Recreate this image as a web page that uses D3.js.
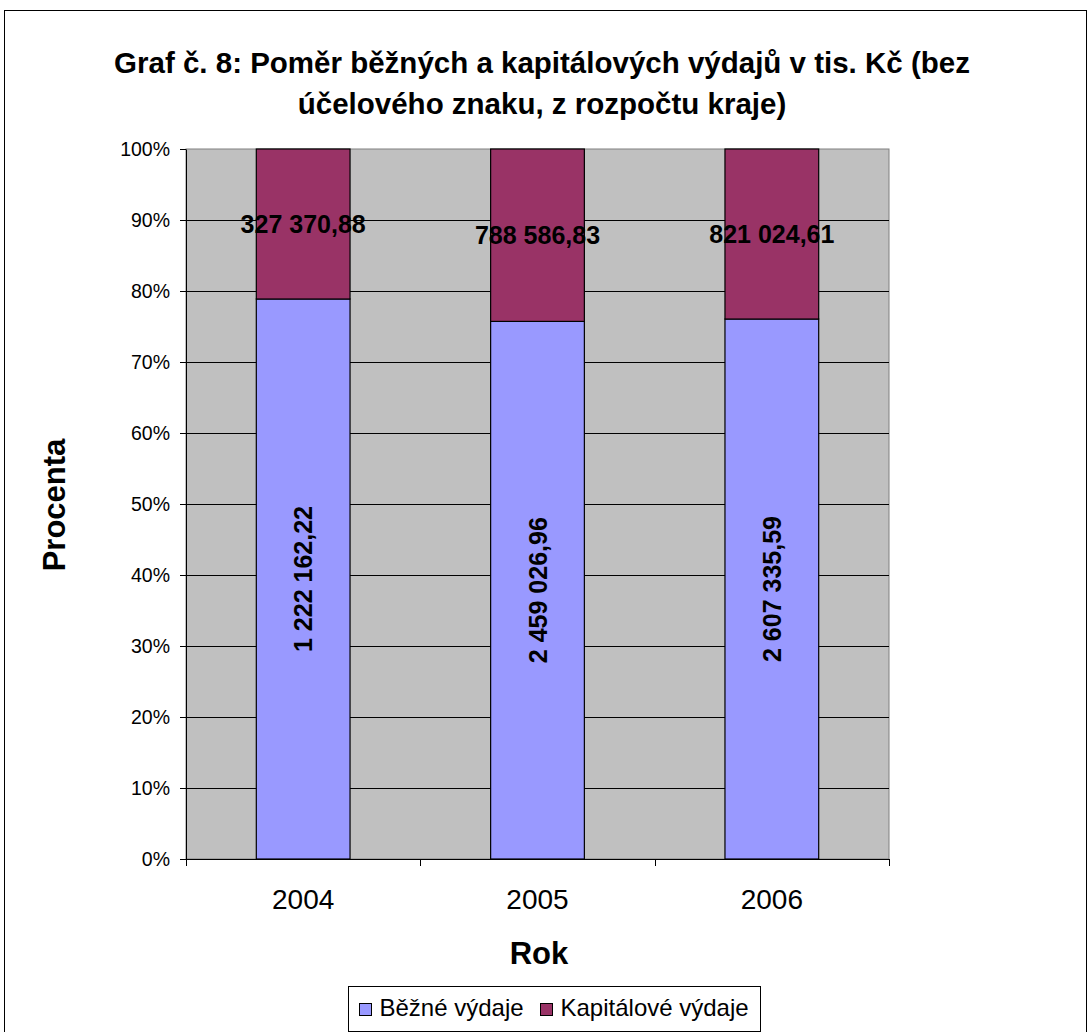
<!DOCTYPE html>
<html>
<head>
<meta charset="utf-8">
<script src="https://cdn.jsdelivr.net/npm/d3@7"></script>
<style>
  body { margin: 0; background: #fff; }
  svg { font-family: "Liberation Sans", Arial, sans-serif; }
</style>
</head>
<body>
<div id="chart"></div>
<script>
const years = ["2004", "2005", "2006"];
const bezne = [1222162.22, 2459026.96, 2607335.59];
const kapitalove = [327370.88, 788586.83, 821024.61];
const seriesNames = ["Běžné výdaje", "Kapitálové výdaje"];
const seriesColors = ["#9999ff", "#993366"];
const yTicks = [0, 0.1, 0.2, 0.3, 0.4, 0.5, 0.6, 0.7, 0.8, 0.9, 1];

const width = 1090, height = 1032;
const margin = { top: 149, right: 201, bottom: 173, left: 186 };
const chartWidth = width - margin.left - margin.right;
const chartHeight = height - margin.top - margin.bottom;

const fmt = v => {
  const [i, d] = v.toFixed(2).split(".");
  return i.replace(/\B(?=(\d{3})+(?!\d))/g, " ") + "," + d;
};

const data = years.map((y, i) => {
  const total = bezne[i] + kapitalove[i];
  return { year: y, b: bezne[i], k: kapitalove[i], pb: bezne[i] / total, pk: kapitalove[i] / total };
});

const svg = d3.select("#chart").append("svg")
  .attr("width", width)
  .attr("height", height);

svg.append("rect")
  .attr("x", 4.5).attr("y", 10.5)
  .attr("width", width - 8).attr("height", height + 20)
  .attr("fill", "#fff").attr("stroke", "#000");

const title = svg.append("text")
  .attr("text-anchor", "middle")
  .style("font-size", "29.5px").style("font-weight", "bold");
title.append("tspan").attr("x", 542).attr("y", 73).text("Graf č. 8: Poměr běžných a kapitálových výdajů v tis. Kč (bez");
title.append("tspan").attr("x", 542).attr("y", 114).text("účelového znaku, z rozpočtu kraje)");

const chart = svg.append("g")
  .attr("transform", `translate(${margin.left}, ${margin.top})`);

const x = d3.scaleBand()
  .domain(years)
  .range([0, chartWidth])
  .paddingInner(0.6)
  .paddingOuter(0.3);

const y = d3.scaleLinear()
  .domain([0, 1])
  .range([chartHeight, 0]);

chart.append("rect")
  .attr("width", chartWidth).attr("height", chartHeight)
  .attr("fill", "#c0c0c0").attr("stroke", "#808080").attr("stroke-width", 1);

chart.selectAll(".grid")
  .data(yTicks.slice(1, -1))
  .enter()
  .append("line")
  .attr("x1", 0).attr("x2", chartWidth)
  .attr("y1", d => Math.round(y(d)) + 0.5)
  .attr("y2", d => Math.round(y(d)) + 0.5)
  .attr("stroke", "#000");

// stacked bars
chart.selectAll(".bar-b")
  .data(data)
  .enter()
  .append("rect")
  .attr("x", d => x(d.year))
  .attr("y", d => y(d.pb))
  .attr("width", x.bandwidth())
  .attr("height", d => chartHeight - y(d.pb))
  .attr("fill", seriesColors[0])
  .attr("stroke", "#000").attr("stroke-width", 1.2);

chart.selectAll(".bar-k")
  .data(data)
  .enter()
  .append("rect")
  .attr("x", d => x(d.year))
  .attr("y", y(1))
  .attr("width", x.bandwidth())
  .attr("height", d => y(d.pb) - y(1))
  .attr("fill", seriesColors[1])
  .attr("stroke", "#000").attr("stroke-width", 1.2);

// axes
const yAxis = chart.append("g")
  .call(d3.axisLeft(y).tickValues(yTicks).tickFormat(d => Math.round(d * 100) + "%").tickSize(6).tickSizeOuter(0));
yAxis.select(".domain").attr("stroke", "#000");
yAxis.selectAll("text")
  .style("font-size", "19.5px")
  .style("font-family", "Liberation Sans, Arial, sans-serif")
  .attr("x", -16);

const xAxis = chart.append("g").attr("transform", `translate(0, ${chartHeight})`);
xAxis.append("line").attr("x1", 0).attr("x2", chartWidth).attr("y1", 0.5).attr("y2", 0.5).attr("stroke", "#000");
const bounds = [0, 1, 2, 3].map(i => i * chartWidth / 3);
xAxis.selectAll(".xtick")
  .data(bounds)
  .enter()
  .append("line")
  .attr("x1", d => Math.round(d) + 0.5).attr("x2", d => Math.round(d) + 0.5)
  .attr("y1", 0).attr("y2", 7)
  .attr("stroke", "#000");
xAxis.selectAll(".xlabel")
  .data(years)
  .enter()
  .append("text")
  .attr("x", d => x(d) + x.bandwidth() / 2)
  .attr("y", 50)
  .attr("text-anchor", "middle")
  .style("font-size", "28px")
  .text(d => d);

// data labels
chart.selectAll(".lab-k")
  .data(data)
  .enter()
  .append("text")
  .attr("x", d => x(d.year) + x.bandwidth() / 2)
  .attr("y", d => (y(1) + y(d.pb)) / 2 + 9)
  .attr("text-anchor", "middle")
  .style("font-size", "25px").style("font-weight", "bold")
  .text(d => fmt(d.k));

chart.selectAll(".lab-b")
  .data(data)
  .enter()
  .append("text")
  .attr("transform", d => `translate(${x(d.year) + x.bandwidth() / 2 + 9}, ${(y(d.pb) + chartHeight) / 2}) rotate(-90)`)
  .attr("text-anchor", "middle")
  .style("font-size", "25px").style("font-weight", "bold")
  .text(d => fmt(d.b));

// axis titles
svg.append("text")
  .attr("x", 539).attr("y", 964)
  .attr("text-anchor", "middle")
  .style("font-size", "31px").style("font-weight", "bold")
  .text("Rok");

svg.append("text")
  .attr("transform", "translate(65, 505) rotate(-90)")
  .attr("text-anchor", "middle")
  .style("font-size", "31px").style("font-weight", "bold")
  .text("Procenta");

// legend
const legend = svg.append("g").attr("transform", "translate(348.5, 986.5)");
legend.append("rect").attr("width", 412).attr("height", 45).attr("fill", "#fff").attr("stroke", "#000");
const legX = [11, 192];
seriesNames.forEach((name, i) => {
  legend.append("rect")
    .attr("x", legX[i]).attr("y", 17).attr("width", 12).attr("height", 12)
    .attr("fill", seriesColors[i]).attr("stroke", "#000");
  legend.append("text")
    .attr("x", legX[i] + 20).attr("y", 29)
    .style("font-size", "24px")
    .text(name);
});
</script>
</body>
</html>
